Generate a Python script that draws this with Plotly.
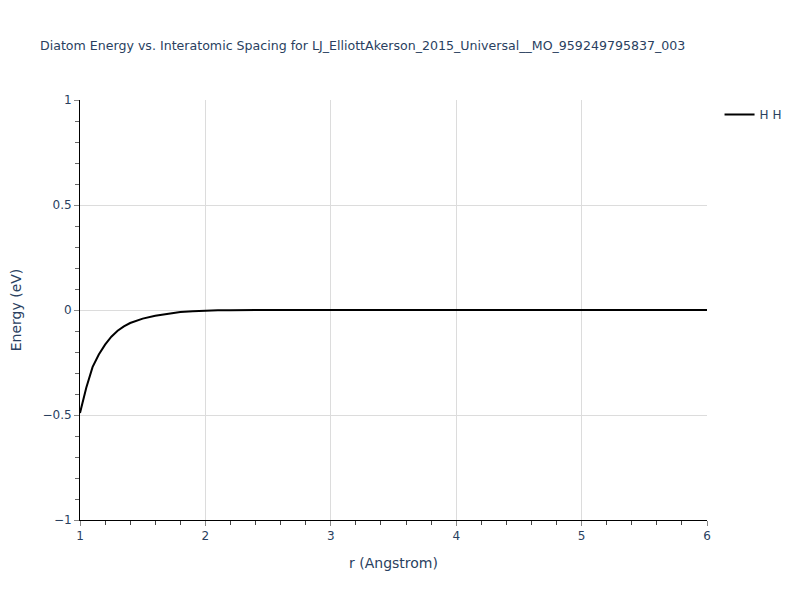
import plotly.graph_objects as go

r_values = [1.0, 1.05, 1.1, 1.15, 1.2, 1.25, 1.3, 1.35, 1.4, 1.5, 1.6, 1.7, 1.8, 1.9, 2.0, 2.1, 2.2, 2.3, 2.5, 3.0, 3.5, 4.0, 4.5, 5.0, 5.5, 6.0]
energy_values = [-0.49, -0.37, -0.272, -0.212, -0.165, -0.127, -0.099, -0.078, -0.062, -0.041, -0.027, -0.017, -0.010, -0.006, -0.003, -0.0015, -0.0007, -0.0003, 0.0, 0.0, 0.0, 0.0, 0.0, 0.0, 0.0, 0.0]
series_name = "H H"
title_text = "Diatom Energy vs. Interatomic Spacing for LJ_ElliottAkerson_2015_Universal__MO_959249795837_003"

fig = go.Figure()
fig.add_trace(go.Scatter(x=r_values, y=energy_values, mode="lines", name=series_name,
                         line=dict(color="black", width=2)))

axis_common = dict(
    showline=True, linecolor="black", linewidth=1,
    showgrid=True, gridcolor="#dcdcdc", gridwidth=1,
    ticks="outside", tickcolor="#888888", ticklen=5, tickwidth=1,
    tickfont=dict(size=12, color="#2a3f5f"),
    zeroline=False, automargin=False,
)

fig.update_layout(
    width=800, height=600,
    paper_bgcolor="white", plot_bgcolor="white",
    font=dict(family="DejaVu Sans, Verdana, sans-serif", color="#2a3f5f"),
    title=dict(text=title_text, x=0.04, xanchor="left", y=0.938, yanchor="middle", font=dict(size=12.6)),
    margin=dict(l=72, r=101, t=92, b=88),
    showlegend=True,
    legend=dict(x=1.02, y=1, xanchor="left", yanchor="top", font=dict(size=12)),
    xaxis=dict(range=[1, 6], dtick=1, title=dict(text="r (Angstrom)", font=dict(size=14)),
               minor=dict(ticks="outside", ticklen=4, tickcolor="#444444", dtick=0.2, showgrid=False),
               **axis_common),
    yaxis=dict(range=[-1, 1], dtick=0.5, title=dict(text="Energy (eV)", font=dict(size=14), standoff=24),
               minor=dict(ticks="outside", ticklen=4, tickcolor="#666666", dtick=0.1, showgrid=False),
               **axis_common),
)

fig.write_html("out.html")
